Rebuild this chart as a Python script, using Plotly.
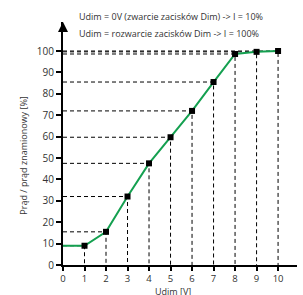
import plotly.graph_objects as go

udim = [0, 1, 2, 3, 4, 5, 6, 7, 8, 9, 10]
current = [9, 9, 15.5, 32, 47.5, 59.7, 72, 85.5, 98.6, 99.6, 100]
marker_x = udim[1:]
marker_y = current[1:]
x_ticks = list(range(0, 11))
y_ticks = list(range(0, 101, 10))
note1 = "Udim = 0V (zwarcie zacisków Dim) -> I = 10%"
note2 = "Udim = rozwarcie zacisków Dim -> I = 100%"
x_title = "Udim [V]"
y_title = "Prąd / prąd znamionowy [%]"

font = "Open Sans, Liberation Sans, sans-serif"

# dashed guide lines from axes to each point
gx, gy = [], []
for x, y in zip(marker_x, marker_y):
    gx += [0, x, x, None]
    gy += [y, y, 0, None]

fig = go.Figure()
fig.add_trace(go.Scatter(x=gx, y=gy, mode="lines",
                         line=dict(color="black", width=1, dash="4px,3px"),
                         hoverinfo="skip", showlegend=False))
fig.add_trace(go.Scatter(x=udim, y=current, mode="lines",
                         line=dict(color="#14a050", width=2),
                         showlegend=False))
fig.add_trace(go.Scatter(x=marker_x, y=marker_y, mode="markers",
                         marker=dict(symbol="square", size=6, color="black"),
                         showlegend=False))

fig.update_layout(
    width=303, height=295,
    margin=dict(l=63, r=6, t=22, b=30, autoexpand=False),
    paper_bgcolor="white", plot_bgcolor="white",
    font=dict(family=font, size=10, color="#333"),
    xaxis=dict(range=[0, 10.88], tickvals=x_ticks, showgrid=False, zeroline=False,
               showline=True, linecolor="black", linewidth=2, automargin=False,
               ticks="outside", ticklen=4, tickwidth=2, tickcolor="black",
               tickfont=dict(size=9.5, color="#333")),
    yaxis=dict(range=[0, 113.55], tickvals=y_ticks, showgrid=False, zeroline=False,
               showline=True, linecolor="black", linewidth=2, automargin=False,
               ticks="outside", ticklen=5, tickwidth=2, tickcolor="black",
               tickfont=dict(size=10, color="#333")),
    annotations=[
        dict(text=note1, xref="paper", yref="paper", x=0.06, y=1.0, xanchor="left",
             yanchor="middle", yshift=6, showarrow=False, font=dict(size=9, color="#333")),
        dict(text=note2, xref="paper", yref="paper", x=0.06, y=1.0, xanchor="left",
             yanchor="middle", yshift=-11, showarrow=False, font=dict(size=9, color="#333")),
        dict(text=x_title, xref="paper", yref="paper", x=0.47, y=0, xanchor="center",
             yanchor="top", yshift=-19, borderpad=0, showarrow=False,
             font=dict(size=9, color="#333")),
        dict(text=y_title, xref="paper", yref="paper", x=0, y=0.45, xanchor="center",
             yanchor="middle", xshift=-39, textangle=-90, showarrow=False,
             font=dict(size=9, color="#333")),
        dict(x=0, y=113.55, xref="x", yref="y", ax=0, ay=8, showarrow=True,
             arrowhead=2, arrowsize=1, arrowwidth=2, arrowcolor="black", text=""),
    ],
)

fig.write_html("out.html", config={"displayModeBar": False},
               post_script="document.body.style.margin='0';")
